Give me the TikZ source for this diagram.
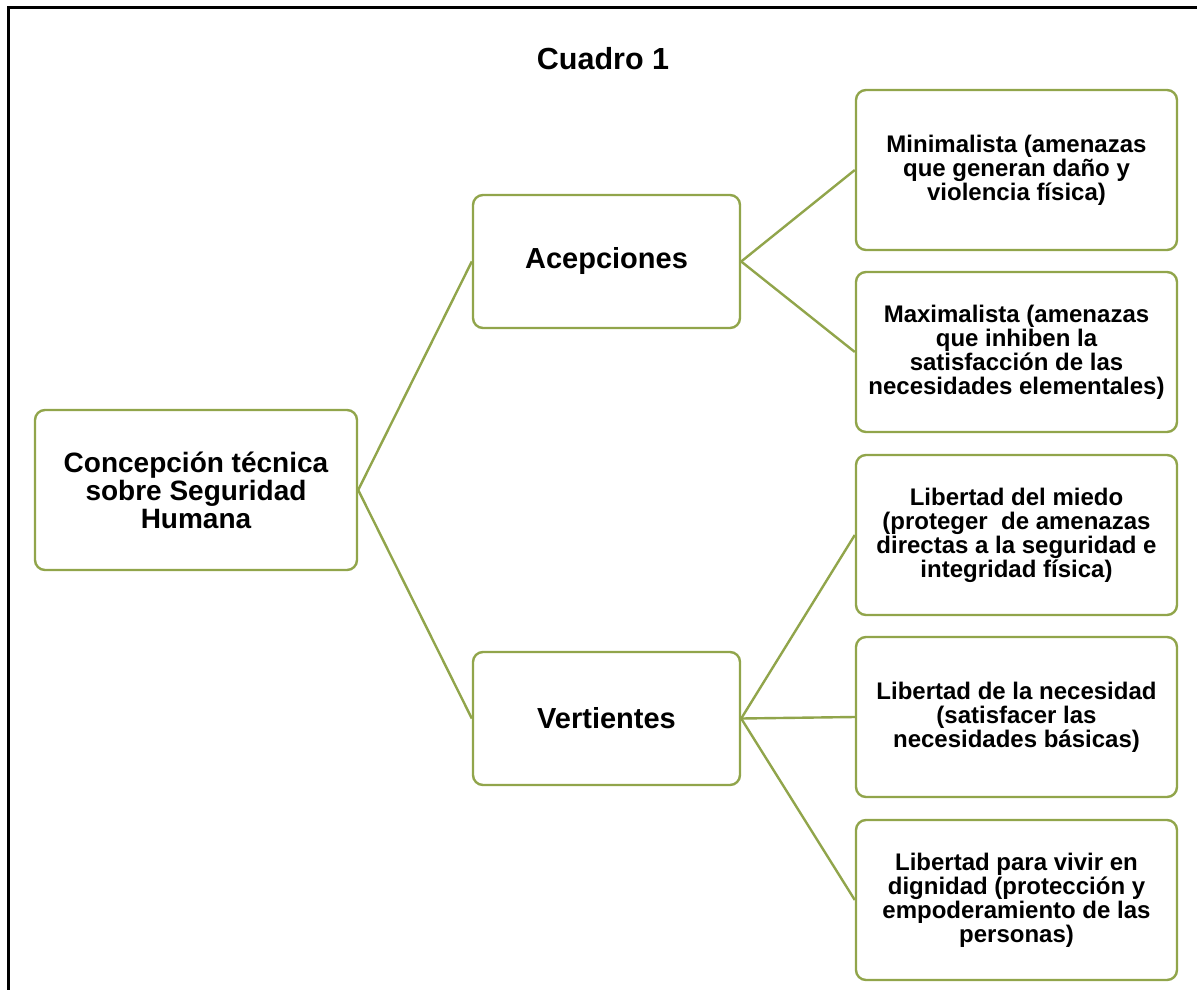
\documentclass[tikz,border=0pt]{standalone}
\usepackage{fontspec}
\setmainfont{Liberation Sans}
\definecolor{olive}{RGB}{145,165,75}
\newcommand{\tightlead}{\lineskiplimit=-100pt\lineskip=0pt}
\tikzset{
  box/.style={draw=olive, line width=2.4pt, rounded corners=10pt, fill=white,
    align=center, inner sep=2pt, text=black},
  leaf/.style={box, minimum width=321pt, minimum height=160pt,
    font=\bfseries\fontsize{24}{24}\selectfont\tightlead},
  mid/.style={box, minimum width=267pt, minimum height=133pt,
    font=\bfseries\fontsize{29}{28}\selectfont\tightlead},
  rootbox/.style={box, minimum width=322pt, minimum height=160pt,
    font=\bfseries\fontsize{28}{28}\selectfont\tightlead},
  link/.style={draw=olive, line width=2.4pt},
  frame/.style={draw=black, line width=3pt}
}
\begin{document}
\begin{tikzpicture}[x=1pt,y=-1pt]
\useasboundingbox (0,0) rectangle (1197,990);
\draw[frame] (8,992) -- (8,7.5) -- (1199,7.5);
\node[font=\bfseries\fontsize{30.5}{31}\selectfont, anchor=base] (title) at (603,70) {Cuadro 1};
\node[rootbox] (root) at (196,490) {Concepción técnica\\sobre Seguridad\\Humana};
\node[mid] (acep) at (606.5,261.5) {Acepciones};
\node[mid] (vert) at (606.5,718.5) {Vertientes};
\node[leaf] (mini) at (1016.5,170) {Minimalista (amenazas\\que generan daño y\\violencia física)};
\node[leaf] (maxi) at (1016.5,352) {Maximalista (amenazas\\que inhiben la\\satisfacción de las\\necesidades elementales)};
\node[leaf] (miedo) at (1016.5,535) {Libertad del miedo\\(proteger\ \ de amenazas\\directas a la seguridad e\\integridad física)};
\node[leaf] (nec) at (1016.5,717) {Libertad de la necesidad\\(satisfacer las\\necesidades básicas)};
\node[leaf] (dig) at (1016.5,900) {Libertad para vivir en\\dignidad (protección y\\empoderamiento de las\\personas)};
\path[link] (root.east) -- (acep.west);
\path[link] (root.east) -- (vert.west);
\path[link] (acep.east) -- (mini.west);
\path[link] (acep.east) -- (maxi.west);
\path[link] (vert.east) -- (miedo.west);
\path[link] (vert.east) -- (nec.west);
\path[link] (vert.east) -- (dig.west);
\end{tikzpicture}
\end{document}
